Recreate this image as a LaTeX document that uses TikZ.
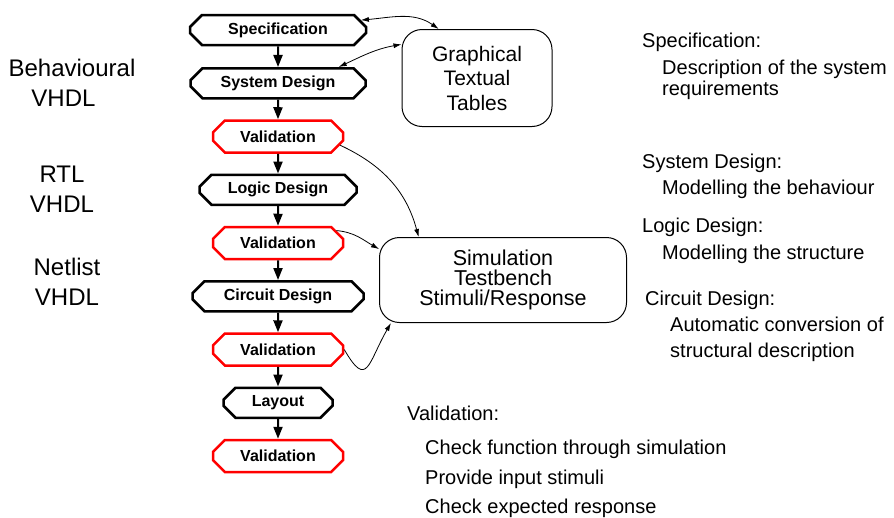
\documentclass[tikz,border=0pt]{standalone}
\usepackage{fontspec}
\setmainfont{Liberation Sans}
\usetikzlibrary{chains,positioning,shapes.misc,arrows.meta}

\begin{document}
\begin{tikzpicture}[x=1pt,y=-1pt,>={Latex[length=8pt,width=5pt]}]
\useasboundingbox (0,0) rectangle (894,517);

\tikzstyle{design}=[chamfered rectangle,chamfered rectangle xsep=6pt,
chamfered rectangle ysep=6pt,draw,line width=2.5pt,
minimum height=30pt,inner sep=0pt,font=\bfseries\fontsize{16}{16}\selectfont]
\tikzstyle{check}=[design,draw=red,minimum height=32pt,minimum width=130pt]
\tikzstyle{tool}=[draw,line width=1pt,rounded corners=20pt,align=center]
\tikzstyle{flow}=[-{Triangle[length=12pt,width=9pt]},line width=2pt]
\tikzstyle{link}=[line width=0.8pt]
\tikzstyle{level}=[align=center,font=\fontsize{24}{30}\selectfont]
\tikzstyle{note}=[anchor=base west,inner sep=0pt,font=\fontsize{20}{20}\selectfont]

%% Design flow
\begin{scope}[start chain=1 going below,node distance=53.25pt,on grid]
    \node [on chain=1,design,minimum width=176pt] at (278,30) (spec) {Specification};
    \node [on chain=1,design,minimum width=175pt] (sysdes) {System Design};
    \node [on chain=1,check] (val1) {Validation};
    \node [on chain=1,design,minimum width=157pt] (logic) {Logic Design};
    \node [on chain=1,check] (val2) {Validation};
    \node [on chain=1,design,minimum width=171pt] (circuit) {Circuit Design};
    \node [on chain=1,check] (val3) {Validation};
    \node [on chain=1,design,minimum width=109pt] (layout) {Layout};
    \node [on chain=1,check] (val4) {Validation};
\end{scope}
\foreach \a/\b in {spec/sysdes,sysdes/val1,val1/logic,logic/val2,val2/circuit,
    circuit/val3,val3/layout,layout/val4}
    \draw [flow] (\a) -- (\b);

%% Tools and simulation
\node [tool,minimum width=150pt,minimum height=97pt,
    font=\fontsize{21}{24.5}\selectfont] at (477,78) (tools) {Graphical\\Textual\\Tables};
\node [tool,minimum width=247pt,minimum height=85pt,
    font=\fontsize{21.5}{20}\selectfont] at (503,280) (sim) {Simulation\\Testbench\\Stimuli/Response};

\draw [link,<->] (spec.north east) to [out=5,in=145] (tools.128);
\draw [link,<->] (sysdes.15) to [out=25,in=190] (tools.156);
\draw [link,->] (val1.-8) to [out=-25,in=105] (sim.153);
\draw [link,->] (val2.12) to [out=-5,in=150] (sim.166);
\draw [link,->] (val3.east) to [out=-60,in=-120,looseness=2.2] (sim.201);

%% Levels
\node [level] at (72,83) (behav) {Behavioural\\\hspace*{-17pt}VHDL};
\node [level] at (62,189) (rtl) {RTL\\VHDL};
\node [level] at (67,282) (netlist) {Netlist\\VHDL};

%% Notes
\node [note] at (642,47) (n1) {Specification:};
\node [note] at (662,74) (n2) {Description of the system};
\node [note] at (662,95) (n3) {requirements};
\node [note] at (642,168) (n4) {System Design:};
\node [note] at (662,194) (n5) {Modelling the behaviour};
\node [note] at (642,232) (n6) {Logic Design:};
\node [note] at (662,259) (n7) {Modelling the structure};
\node [note] at (645,305) (n8) {Circuit Design:};
\node [note] at (670,331) (n9) {Automatic conversion of};
\node [note] at (670,357) (n10) {structural description};
\node [note] at (407,420) (v1) {Validation:};
\node [note] at (425,454) (v2) {Check function through simulation};
\node [note] at (425,484) (v3) {Provide input stimuli};
\node [note] at (425,513) (v4) {Check expected response};
\end{tikzpicture}
\end{document}
